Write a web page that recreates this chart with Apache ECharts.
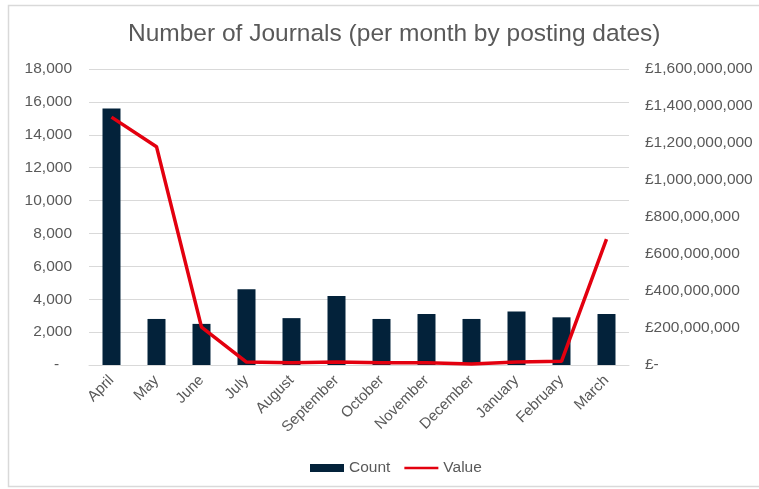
<!DOCTYPE html>
<html>
<head>
<meta charset="utf-8">
<script src="https://cdn.jsdelivr.net/npm/echarts@6/dist/echarts.min.js"></script>
<style>
  html, body { margin: 0; padding: 0; background: #fff; }
  #chart { width: 759px; height: 489px; }
</style>
</head>
<body>
<div id="chart"></div>
<script>
var months = ['April', 'May', 'June', 'July', 'August', 'September', 'October', 'November', 'December', 'January', 'February', 'March'];
var countData = [15600, 2800, 2500, 4600, 2850, 4200, 2800, 3100, 2800, 3250, 2900, 3100];
var valueData = [1340000000, 1180000000, 205000000, 16000000, 12000000, 16000000, 12000000, 12000000, 5000000, 16000000, 20000000, 680000000];

var labelColor = '#595959';
var gridColor = '#d9d9d9';

function withCommas(n) {
    return String(n).replace(/\B(?=(\d{3})+(?!\d))/g, ',');
}

var chart = echarts.init(document.getElementById('chart'));
chart.setOption({
    animation: false,
    textStyle: { fontFamily: 'Liberation Sans, Arial, sans-serif' },
    graphic: [{
        type: 'rect',
        shape: { x: 8.5, y: 5.5, width: 760, height: 481 },
        style: { fill: 'none', stroke: '#d9d9d9', lineWidth: 1.5 },
        silent: true
    }],
    title: {
        text: 'Number of Journals (per month by posting dates)',
        left: 123,
        top: 17,
        textStyle: { fontSize: 24.5, fontWeight: 'normal', color: labelColor }
    },
    legend: {
        top: 455,
        left: 305,
        itemGap: 14,
        itemWidth: 34,
        itemHeight: 8,
        textStyle: { fontSize: 15.5, color: labelColor },
        data: [
            { name: 'Count', icon: 'rect' },
            { name: 'Value', icon: 'path://M0,0H38V3H0Z' }
        ]
    },
    grid: { left: 89, right: 130, top: 69, bottom: 124 },
    xAxis: {
        type: 'category',
        data: months,
        axisLine: { lineStyle: { color: gridColor } },
        axisTick: { show: false },
        axisLabel: { rotate: 45, fontSize: 15, color: labelColor, margin: 13, interval: 0 }
    },
    yAxis: [{
        type: 'value',
        min: 0,
        max: 18000,
        interval: 2000,
        axisLine: { show: false },
        axisTick: { show: false },
        splitLine: { lineStyle: { color: gridColor } },
        axisLabel: {
            fontSize: 15.5,
            color: labelColor,
            margin: 17,
            formatter: function (v) { return v === 0 ? '-   ' : withCommas(v); }
        }
    }, {
        type: 'value',
        min: 0,
        max: 1600000000,
        interval: 200000000,
        axisLine: { show: false },
        axisTick: { show: false },
        splitLine: { show: false },
        axisLabel: {
            fontSize: 15.5,
            color: labelColor,
            margin: 16,
            formatter: function (v) { return v === 0 ? '£-' : '£' + withCommas(v); }
        }
    }],
    series: [{
        name: 'Count',
        type: 'bar',
        data: countData,
        barWidth: 18,
        itemStyle: { color: '#03223a' }
    }, {
        name: 'Value',
        type: 'line',
        yAxisIndex: 1,
        data: valueData,
        symbol: 'none',
        lineStyle: { color: '#e3000f', width: 3.5 },
        itemStyle: { color: '#e3000f' }
    }]
});
</script>
</body>
</html>
